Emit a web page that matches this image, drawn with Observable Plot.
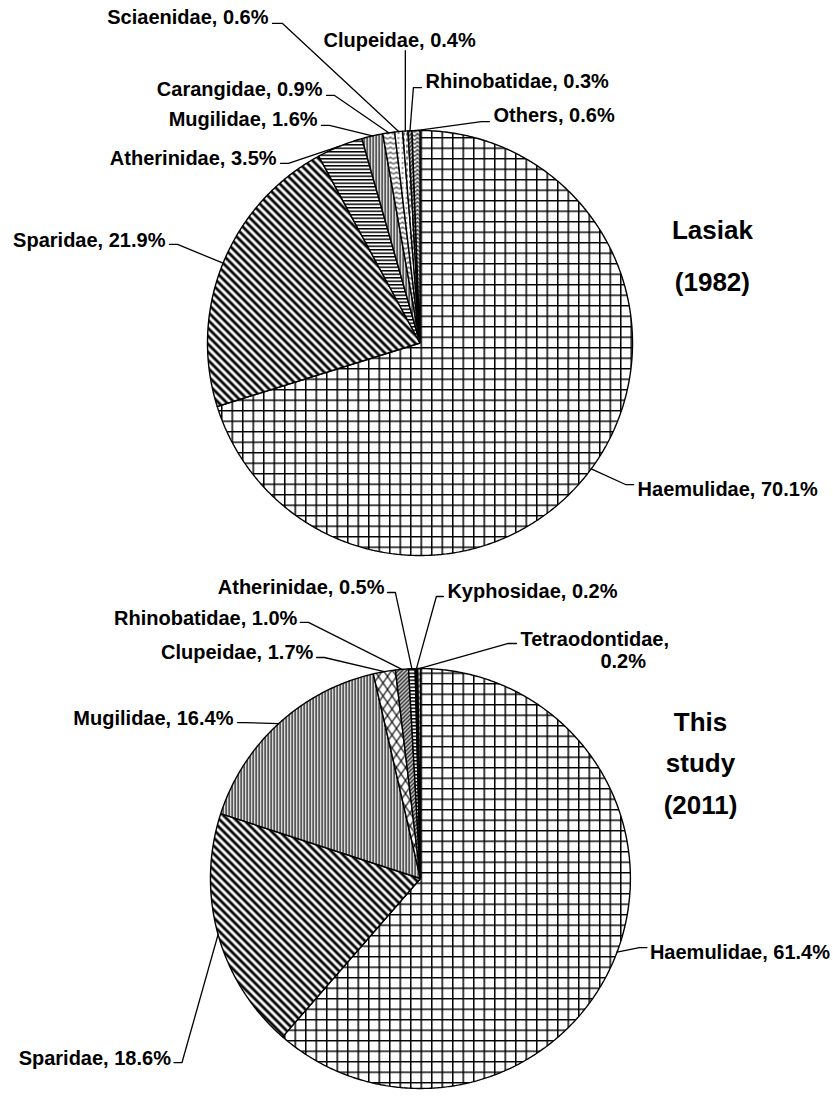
<!DOCTYPE html>
<html><head><meta charset="utf-8">
<script src="https://cdn.jsdelivr.net/npm/d3@7"></script>
<script src="https://cdn.jsdelivr.net/npm/@observablehq/plot@0.6"></script>
<style>body{margin:0;background:#fff} svg{display:block}</style>
</head><body><div id="chart"></div>
<script>
// ---- data ----
const families1982 = ["Haemulidae","Sparidae","Atherinidae","Mugilidae","Carangidae","Sciaenidae","Clupeidae","Rhinobatidae","Others"];
const shares1982   = [70.1, 21.9, 3.5, 1.6, 0.9, 0.6, 0.4, 0.3, 0.6];
const families2011 = ["Haemulidae","Sparidae","Mugilidae","Clupeidae","Rhinobatidae","Atherinidae","Kyphosidae","Tetraodontidae"];
const shares2011   = [61.4, 18.6, 16.4, 1.7, 1.0, 0.5, 0.2, 0.2];
const title1982 = ["Lasiak", "(1982)"];
const title2011 = ["This", "study", "(2011)"];

// ---- styles (fill patterns) ----
const patterns1982 = {Haemulidae:"grid", Sparidae:"diag", Atherinidae:"horiz", Mugilidae:"vert", Carangidae:"wave", Sciaenidae:"dots", Clupeidae:"dash", Rhinobatidae:"fine", Others:"chevron"};
const patterns2011 = {Haemulidae:"grid", Sparidae:"diag", Mugilidae:"vert", Clupeidae:"lattice", Rhinobatidae:"fine", Atherinidae:"horiz", Kyphosidae:"black", Tetraodontidae:"dash"};

// ---- layout (units of pie radius, relative to each pie centre) ----
const layout1982 = {
  Sciaenidae:   {anchor:"end",    at:[-0.713, 1.532], lead:[[-0.694,1.504],[-0.647,1.504]]},
  Clupeidae:    {anchor:"middle", at:[-0.096, 1.424], lead:[[-0.069,1.376]]},
  Rhinobatidae: {anchor:"start",  at:[0.026, 1.231],  lead:[[0.007,1.202],[-0.031,1.202]]},
  Others:       {anchor:"start",  at:[0.346, 1.071],  lead:[[0.327,1.042],[0.289,1.042]]},
  Carangidae:   {anchor:"end",    at:[-0.459, 1.193], lead:[[-0.440,1.165],[-0.402,1.165]]},
  Mugilidae:    {anchor:"end",    at:[-0.482, 1.052], lead:[[-0.464,1.024],[-0.426,1.024]]},
  Atherinidae:  {anchor:"end",    at:[-0.675, 0.868], lead:[[-0.656,0.845],[-0.619,0.845]]},
  Sparidae:     {anchor:"end",    at:[-1.198, 0.482], lead:[[-1.179,0.464],[-1.141,0.464]]},
  Haemulidae:   {anchor:"start",  at:[1.024, -0.689], lead:[[1.005,-0.666],[0.967,-0.666]]}
};
const layout2011 = {
  Atherinidae:    {anchor:"end",   at:[-0.169, 1.369], lead:[[-0.155,1.346],[-0.118,1.346]]},
  Kyphosidae:     {anchor:"start", at:[0.127, 1.351],  lead:[[0.108,1.327],[0.075,1.327]]},
  Rhinobatidae:   {anchor:"end",   at:[-0.579, 1.224], lead:[[-0.565,1.205],[-0.527,1.205]]},
  Clupeidae:      {anchor:"end",   at:[-0.504, 1.064], lead:[[-0.489,1.040],[-0.452,1.040]]},
  Tetraodontidae: {anchor:"start", at:[0.471, 1.125], at2:[0.847, 1.021], lead:[[0.452,1.106],[0.414,1.106]]},
  Mugilidae:      {anchor:"end",   at:[-0.880, 0.753], lead:[[-0.861,0.734],[-0.824,0.734]]},
  Sparidae:       {anchor:"end",   at:[-1.174,-0.847], lead:[[-1.160,-0.866],[-1.122,-0.866]]},
  Haemulidae:     {anchor:"start", at:[1.080, -0.348], lead:[[1.066,-0.325],[1.030,-0.325]]}
};
const pies = [
  {key:"1982", families:families1982, shares:shares1982, patterns:patterns1982, layout:layout1982, title:title1982, cx:0, cy:0, r:1, titleAt:[1.376, 0.529], titleStep:0.245},
  {key:"2011", families:families2011, shares:shares2011, patterns:patterns2011, layout:layout2011, title:title2011, cx:0.002, cy:-2.52, r:0.988, titleAt:[1.318, 0.734], titleStep:0.195}
];

// ---- derived tables ----
const slicePts = [], leaderPts = [], labels = [], titles = [];
for (const p of pies) {
  const arcs = d3.pie().sort(null).value(d => d)(p.shares);
  arcs.forEach((a, i) => {
    const fam = p.families[i];
    const id = p.key + "-" + fam;
    const fill = p.patterns[fam] === "black" ? "#000" : `url(#p-${p.patterns[fam]})`;
    slicePts.push({id, x: p.cx, y: p.cy, fill});
    const n = Math.max(2, Math.ceil((a.endAngle - a.startAngle) / 0.008));
    for (let k = 0; k <= n; k++) {
      const t = a.startAngle + (a.endAngle - a.startAngle) * k / n;
      slicePts.push({id, x: p.cx + p.r * Math.sin(t), y: p.cy + p.r * Math.cos(t), fill});
    }
    const L = p.layout[fam];
    if (!L) return;
    const mid = (a.startAngle + a.endAngle) / 2;
    for (const q of L.lead) leaderPts.push({id, x: p.cx + q[0], y: p.cy + q[1]});
    leaderPts.push({id, x: p.cx + p.r * Math.sin(mid), y: p.cy + p.r * Math.cos(mid)});
    const pct = p.shares[i].toFixed(1) + "%";
    if (L.at2) {
      labels.push({x: p.cx + L.at[0], y: p.cy + L.at[1], text: fam + ",", anchor: L.anchor});
      labels.push({x: p.cx + L.at2[0], y: p.cy + L.at2[1], text: pct, anchor: L.anchor});
    } else {
      labels.push({x: p.cx + L.at[0], y: p.cy + L.at[1], text: `${fam}, ${pct}`, anchor: L.anchor});
    }
  });
  p.title.forEach((t, j) => titles.push({x: p.cx + p.titleAt[0], y: p.cy + p.titleAt[1] - j * p.titleStep, text: t}));
}

const unit = 212.5;
const font = "'Liberation Sans', Arial, Helvetica, sans-serif";
const textOpts = a => ({x:"x", y:"y", text:"text", textAnchor:a, fontSize:20, fontWeight:"bold", fontFamily:font, fill:"#000"});

const svg = Plot.plot({
  width: 833, height: 1096, margin: 0,
  x: {domain: [-419.5/unit, (833-419.5)/unit], axis: null},
  y: {domain: [-(1096-342.5)/unit, 342.5/unit], axis: null},
  color: {type: "identity"},
  style: {background: "#fff"},
  marks: [
    Plot.line(slicePts, {x:"x", y:"y", z:"id", fill:"fill", stroke:"#000", strokeWidth:1.4, curve:"linear-closed", strokeLinejoin:"miter"}),
    Plot.line(leaderPts, {x:"x", y:"y", z:"id", stroke:"#000", strokeWidth:1.3, strokeLinejoin:"miter"}),
    Plot.text(labels.filter(d => d.anchor === "start"), textOpts("start")),
    Plot.text(labels.filter(d => d.anchor === "end"), textOpts("end")),
    Plot.text(labels.filter(d => d.anchor === "middle"), textOpts("middle")),
    Plot.text(titles, {x:"x", y:"y", text:"text", textAnchor:"middle", fontSize:26, fontWeight:"bold", fontFamily:font, fill:"#000"})
  ]
});

const defs = `
<pattern id="p-grid" patternUnits="userSpaceOnUse" width="10.5" height="10.5"><rect width="10.5" height="10.5" fill="#fff"/><path d="M0.75,0V10.5M0,0.75H10.5" stroke="#000" stroke-width="1.5"/></pattern>
<pattern id="p-diag" patternUnits="userSpaceOnUse" width="8" height="8"><rect width="8" height="8" fill="#fff"/><path d="M-2,6L2,10M0,0L8,8M6,-2L10,2" stroke="#000" stroke-width="2.8"/></pattern>
<pattern id="p-vert" patternUnits="userSpaceOnUse" width="3" height="3"><rect width="3" height="3" fill="#fff"/><rect width="1.3" height="3" fill="#000"/></pattern>
<pattern id="p-horiz" patternUnits="userSpaceOnUse" width="3.5" height="3.5"><rect width="3.5" height="3.5" fill="#fff"/><rect width="3.5" height="1.5" fill="#000"/></pattern>
<pattern id="p-wave" patternUnits="userSpaceOnUse" width="6" height="5"><rect width="6" height="5" fill="#fff"/><path d="M0,1.5Q3,5 6,1.5" stroke="#000" stroke-width="1.1" fill="none"/></pattern>
<pattern id="p-dots" patternUnits="userSpaceOnUse" width="4" height="5"><rect width="4" height="5" fill="#fff"/><circle cx="2" cy="2.5" r="0.8" fill="#000"/></pattern>
<pattern id="p-dash" patternUnits="userSpaceOnUse" width="3" height="6"><rect width="3" height="6" fill="#fff"/><rect x="1" y="0" width="1" height="3" fill="#000"/></pattern>
<pattern id="p-chevron" patternUnits="userSpaceOnUse" width="6" height="4"><rect width="6" height="4" fill="#fff"/><path d="M0,4L3,1L6,4" stroke="#000" stroke-width="1.1" fill="none"/></pattern>
<pattern id="p-fine" patternUnits="userSpaceOnUse" width="4" height="4"><rect width="4" height="4" fill="#fff"/><path d="M-1,1L1,-1M0,4L4,0M3,5L5,3" stroke="#000" stroke-width="1.4"/></pattern>
<pattern id="p-lattice" patternUnits="userSpaceOnUse" width="9" height="13"><rect width="9" height="13" fill="#fff"/><path d="M0,0L9,13M9,0L0,13" stroke="#000" stroke-width="1.1"/></pattern>`;
d3.select(svg).insert("defs", ":first-child").html(defs);
document.getElementById("chart").appendChild(svg);
</script>
</body></html>
